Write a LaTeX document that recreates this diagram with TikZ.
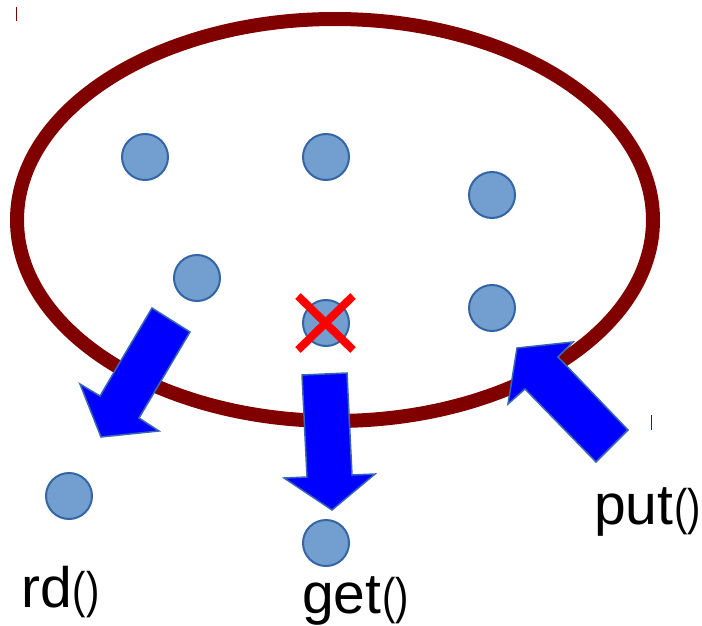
\documentclass[tikz,border=0pt]{standalone}
\usepackage{fontspec}
\setmainfont{Liberation Sans}
\begin{document}
\begin{tikzpicture}[x=1pt,y=-1pt,
  token/.style={circle,draw=tokenedge,fill=tokenfill,line width=2pt,minimum size=46pt,inner sep=0pt},
  bigarrow/.style={fill=arrowblue,draw=arrowedge,line width=1.5pt,line join=miter},
  lbl/.style={anchor=base west,inner sep=0pt,font=\fontsize{57}{60}\selectfont},
  tick/.style={draw=spacered,line width=1pt}]
\definecolor{spacered}{HTML}{800000}
\definecolor{tokenfill}{HTML}{729FCF}
\definecolor{tokenedge}{HTML}{3465A4}
\definecolor{arrowblue}{HTML}{0000FF}
\definecolor{arrowedge}{HTML}{3A68B0}
\newcommand{\parens}{{\fontsize{50}{52}\selectfont\kern1pt\scalebox{0.8}[1]{()}}}
\useasboundingbox (0,0) rectangle (702,626);

% tuple space
\draw[spacered,line width=14pt] (335,220) ellipse [x radius=318,y radius=201];

% tuples inside the space
\node[token] (t1) at (145,157) {};
\node[token] (t2) at (326,157) {};
\node[token] (t3) at (492,195) {};
\node[token] (t4) at (197,278) {};
\node[token] (t5) at (326,323) {};
\node[token] (t6) at (492,308) {};

% tuples taken out of the space
\node[token] (r1) at (69,496) {};
\node[token] (g1) at (326,543) {};

% removed tuple
\draw[red,line width=8pt] ([shift={(-28,-27)}]t5.center) -- ([shift={(27,27)}]t5.center);
\draw[red,line width=8pt] ([shift={(27,-27)}]t5.center) -- ([shift={(-28,27)}]t5.center);

% rd() arrow
\draw[bigarrow] (152,308) -- (190,332) -- (139,418) -- (159,431) -- (101,437)
  -- (80,384) -- (100,396) -- cycle;
% get() arrow
\draw[bigarrow] (302,375) -- (347,373) -- (352,475) -- (375,474) -- (332,510)
  -- (284,478) -- (307,477) -- cycle;
% put() arrow
\draw[bigarrow] (517,348) -- (573,342) -- (558,357) -- (628,430) -- (596,462)
  -- (525,389) -- (508,404) -- cycle;

% small marks
\coordinate (m1) at (16,7);
\coordinate (m2) at (16,21);
\coordinate (m3) at (651,415);
\coordinate (m4) at (651,430);
\draw[tick] (m1) -- (m2);
\draw[tick] (m3) -- (m4);

% operation labels
\node[lbl] (rd) at (21,607) {rd\parens};
\node[lbl] (get) at (302,613) {get\parens};
\node[lbl] (put) at (594,524) {put\parens};
\end{tikzpicture}
\end{document}
